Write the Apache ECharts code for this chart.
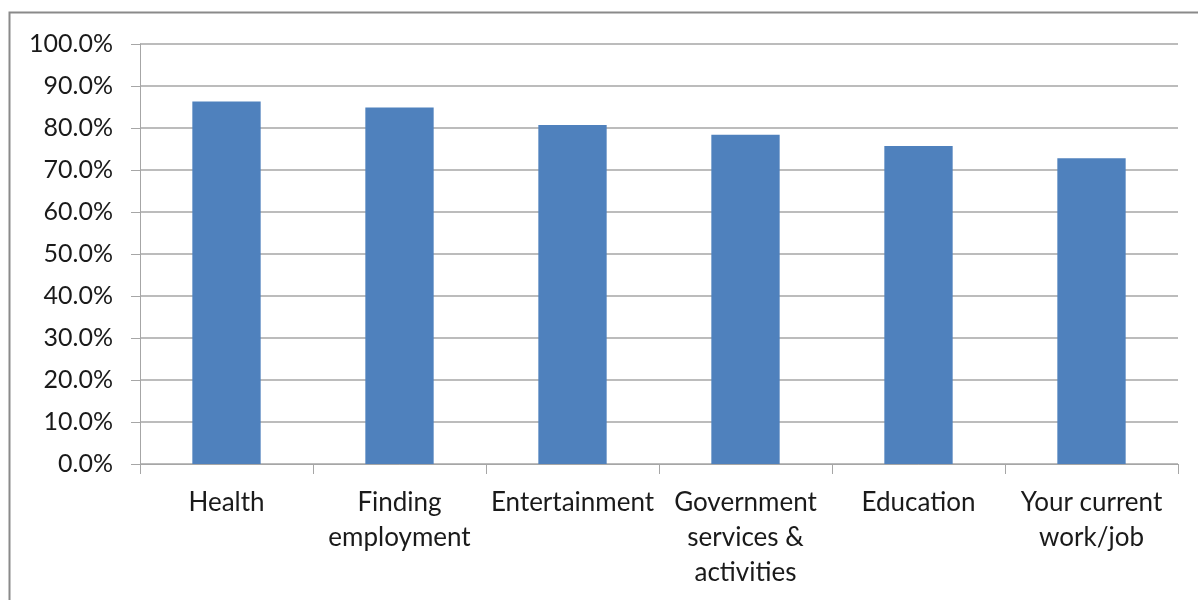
<!DOCTYPE html>
<html>
<head>
<meta charset="utf-8">
<script src="https://cdn.jsdelivr.net/npm/echarts@6/dist/echarts.min.js"></script>
<style>
  html, body { margin: 0; padding: 0; background: #fff; }
  #chart { width: 1198px; height: 600px; }
</style>
</head>
<body>
<div id="chart"></div>
<script>
const categories = ['Health', 'Finding\nemployment', 'Entertainment', 'Government\nservices &\nactivities', 'Education', 'Your current\nwork/job'];
const values = [86.3, 84.9, 80.7, 78.4, 75.7, 72.8];
const yTickMin = 0;
const yTickMax = 100;
const yTickStep = 10;

const chart = echarts.init(document.getElementById('chart'), null, { renderer: 'canvas' });
const FONT = 'Lato';
chart.setOption({
  animation: false,
  backgroundColor: '#fff',
  graphic: [{
    type: 'rect',
    silent: true,
    shape: { x: 9.5, y: 12.5, width: 1400, height: 800 },
    style: { fill: 'none', stroke: '#8a8a8a', lineWidth: 2 }
  }],
  grid: { left: 140, right: 20, top: 44, bottom: 136, containLabel: false },
  xAxis: {
    type: 'category',
    data: categories,
    axisLine: { show: true, lineStyle: { color: '#a6a6a6', width: 1 } },
    axisTick: { show: true, alignWithLabel: false, length: 10, lineStyle: { color: '#a6a6a6' } },
    axisLabel: {
      interval: 0,
      margin: 21,
      color: '#1a1a1a',
      fontFamily: FONT,
      fontSize: 26,
      lineHeight: 35,
      align: 'center'
    },
    splitLine: { show: false }
  },
  yAxis: {
    type: 'value',
    min: yTickMin,
    max: yTickMax,
    interval: yTickStep,
    axisLine: { show: true, lineStyle: { color: '#a6a6a6', width: 1 } },
    axisTick: { show: true, length: 9, lineStyle: { color: '#a6a6a6' } },
    axisLabel: {
      margin: 27,
      color: '#1a1a1a',
      fontFamily: FONT,
      fontSize: 25,
      formatter: v => v.toFixed(1) + '%'
    },
    splitLine: { show: true, lineStyle: { color: '#a6a6a6', width: 1.5 } }
  },
  series: [{
    type: 'bar',
    data: values,
    barWidth: '39.5%',
    itemStyle: { color: '#4F81BD' }
  }]
});
</script>
</body>
</html>
